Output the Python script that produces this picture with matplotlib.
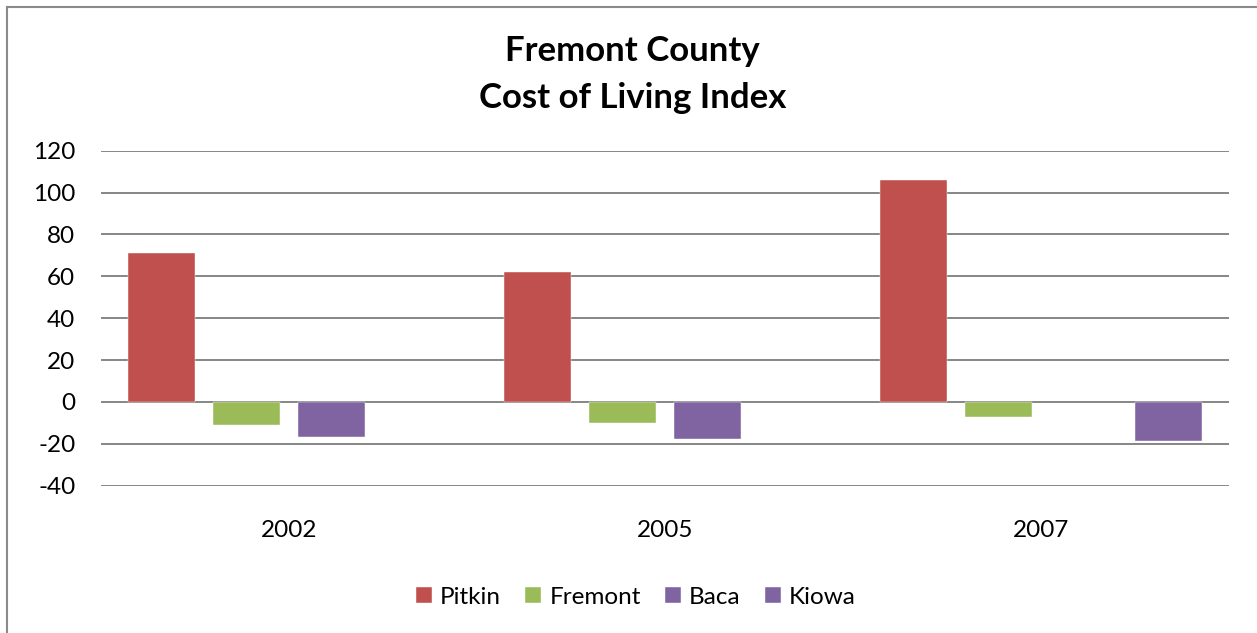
import matplotlib.pyplot as plt
import numpy as np
from matplotlib.lines import Line2D

# Chart data
years = ['2002', '2005', '2007']
series = ['Pitkin', 'Fremont', 'Baca', 'Kiowa']
pitkin = [71.0, 62.2, 106.1]
fremont = [-10.8, -9.9, -7.0]
baca = [-16.6, -17.7, np.nan]
kiowa = [np.nan, np.nan, -18.5]
colors = ['#C0504D', '#9BBB59', '#8064A2', '#8064A2']

plt.rcParams['font.family'] = ['Lato', 'DejaVu Sans']
plt.rcParams['axes.unicode_minus'] = False

fig = plt.figure(figsize=(12.57, 6.33), dpi=100)
ax = fig.add_axes([101 / 1257, 1 - 485.7 / 633, 1128 / 1257, 335 / 633])

x = np.arange(len(years))
pitch = 0.226
width = 0.18
for i, (name, vals) in enumerate(zip(series, [pitkin, fremont, baca, kiowa])):
    ax.bar(x + (i - 1.5) * pitch, vals, width, color=colors[i], label=name,
           zorder=3, edgecolor='white', linewidth=0.3)

ax.set_xlim(-0.5, len(years) - 0.5)
ax.set_ylim(-40, 120)
ax.set_yticks(range(-40, 121, 20))
ax.set_xticks(x)
ax.set_xticklabels(years)
ax.yaxis.grid(True, color='#868686', linewidth=1.4, zorder=0)
ax.set_axisbelow(True)
for s in ax.spines.values():
    s.set_visible(False)
ax.tick_params(axis='both', length=0, labelsize=17.5)
ax.tick_params(axis='y', pad=18.5)
ax.tick_params(axis='x', pad=25)

fig.text(0.503, 1 - 51 / 633, 'Fremont County', ha='center', va='center',
         fontsize=25, fontweight='bold')
fig.text(0.503, 1 - 98 / 633, 'Cost of Living Index', ha='center', va='center',
         fontsize=25, fontweight='bold')

fig.legend(loc='center', bbox_to_anchor=(636 / 1257, 1 - 597 / 633), ncol=4,
           frameon=False, fontsize=17.5, handlelength=0.66, handleheight=0.66,
           handletextpad=0.33, columnspacing=1.0)

# outer chart border (left and top only visible)
fig.add_artist(Line2D([7 / 1257, 7 / 1257], [0, 1 - 7 / 633], color='#8a8a8a', linewidth=1.5))
fig.add_artist(Line2D([7 / 1257, 1], [1 - 7 / 633, 1 - 7 / 633], color='#8a8a8a', linewidth=1.5))

fig.savefig('out.png', dpi=100)
